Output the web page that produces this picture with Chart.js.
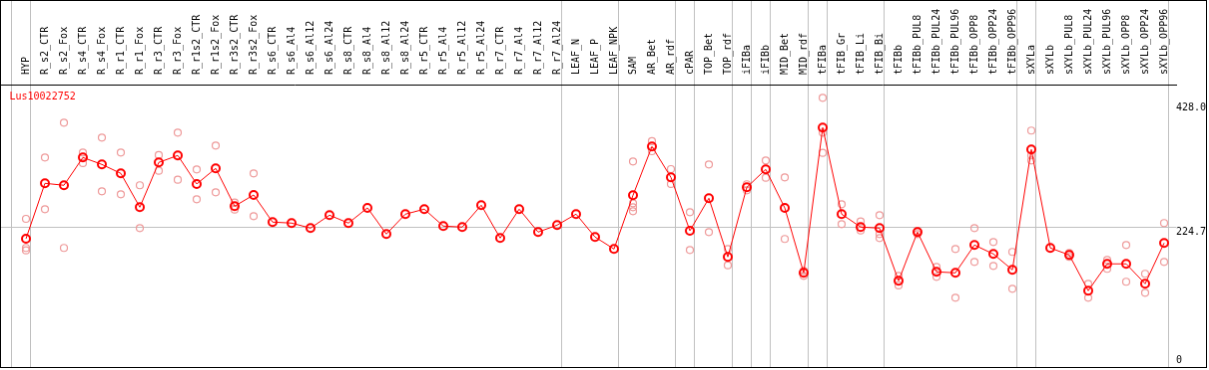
<!DOCTYPE html>
<html>
<head>
<meta charset="utf-8">
<script src="https://cdn.jsdelivr.net/npm/chart.js"></script>
<style>
    body { margin: 0; background: #fff; }
    #exprChart { display: block; border: 1px solid #000; }
</style>
</head>
<body>
<canvas id="exprChart" width="1207" height="368"></canvas>
<script>
const geneName = 'Lus10022752';

const categories = ['HYP', 'R_s2_CTR', 'R_s2_Fox', 'R_s4_CTR', 'R_s4_Fox', 'R_r1_CTR', 'R_r1_Fox',
    'R_r3_CTR', 'R_r3_Fox', 'R_r1s2_CTR', 'R_r1s2_Fox', 'R_r3s2_CTR', 'R_r3s2_Fox',
    'R_s6_CTR', 'R_s6_Al4', 'R_s6_Al12', 'R_s6_Al24', 'R_s8_CTR', 'R_s8_Al4', 'R_s8_Al12', 'R_s8_Al24',
    'R_r5_CTR', 'R_r5_Al4', 'R_r5_Al12', 'R_r5_Al24', 'R_r7_CTR', 'R_r7_Al4', 'R_r7_Al12', 'R_r7_Al24',
    'LEAF_N', 'LEAF_P', 'LEAF_NPK', 'SAM', 'AR_Bet', 'AR_rdf', 'cPAR', 'TOP_Bet', 'TOP_rdf',
    'iFIBa', 'iFIBb', 'MID_Bet', 'MID_rdf', 'tFIBa', 'tFIB_Gr', 'tFIB_Li', 'tFIB_Bi',
    'tFIBb', 'tFIBb_PUL8', 'tFIBb_PUL24', 'tFIBb_PUL96', 'tFIBb_OPP8', 'tFIBb_OPP24', 'tFIBb_OPP96',
    'sXYLa', 'sXYLb', 'sXYLb_PUL8', 'sXYLb_PUL24', 'sXYLb_PUL96', 'sXYLb_OPP8', 'sXYLb_OPP24', 'sXYLb_OPP96'];

// mean expression per sample
const means = [206.4, 296.8, 293.6, 339.0, 327.6, 313.0, 257.8, 330.9, 342.3, 295.7, 321.2, 259.5, 277.8,
    233.5, 231.9, 223.7, 244.8, 231.9, 256.7, 214.0, 246.5,
    254.6, 227.0, 225.4, 261.1, 207.5, 254.6, 217.2, 228.6,
    246.5, 209.1, 189.6, 277.3, 356.9, 306.5, 219.4, 272.4, 176.7,
    290.3, 319.5, 256.7, 150.7, 387.7, 246.5, 225.4, 223.7,
    137.7, 217.2, 152.3, 150.7, 196.1, 181.5, 155.5,
    352.0, 191.3, 179.9, 121.4, 165.3, 165.3, 132.8, 199.4];

// individual replicates (empty = single sample)
const replicates = [
    [238.8, 191.3, 187.4], [339.0, 254.6], [395.8, 191.3], [347.1, 329.8], [371.5, 283.8],
    [347.1, 278.9], [293.6, 223.7], [342.8, 317.3], [379.6, 302.6], [319.5, 270.8],
    [358.5, 282.2], [265.3, 253.9], [313.0, 243.2],
    [], [], [], [], [], [], [], [], [], [], [], [], [], [], [], [], [], [], [],
    [332.5, 264.3, 257.8, 251.3], [365.5, 349.2], [320.0, 295.7], [249.7, 188.0],
    [327.6, 217.2], [189.6, 163.0], [295.2, 285.4], [334.1, 305.9], [306.5, 205.9],
    [153.9, 145.8], [436.4, 379.6, 346.5], [262.7, 230.2], [234.5, 219.8], [244.8, 214.0, 207.5],
    [145.8, 130.1], [218.9, 214.0], [160.4, 144.2], [189.6, 110.1], [223.7, 168.5],
    [201.0, 162.0], [184.8, 124.7], [382.9, 342.3, 334.1], [],
    [183.1, 176.7], [132.8, 110.1], [171.8, 157.2], [196.1, 136.1], [149.1, 118.2], [231.9, 168.5]];

// last sample index of each tissue group (-1 = start)
const groupEnds = [-1, 0, 28, 31, 34, 35, 37, 38, 39, 41, 42, 45, 52, 53, 60];

const yTicks = [0, 224.7, 428.0];
const yTickLabels = ['0', '224.7', '428.0'];

const monoFont = { family: "'DejaVu Sans Mono', monospace", size: 10, lineHeight: 1 };
const xMin = -25 / 19;
const xMax = 1152 / 19;

const meanPoints = means.map((v, i) => ({ x: i, y: v }));
const repPoints = [];
replicates.forEach((vals, i) => vals.forEach(v => repPoints.push({ x: i, y: v })));

// gene id written in the top-left corner of the plot
const geneLabel = {
    id: 'geneLabel',
    afterDraw(chart) {
        const { ctx, chartArea } = chart;
        ctx.save();
        ctx.font = "10px 'DejaVu Sans Mono', monospace";
        ctx.fillStyle = '#ff0000';
        ctx.textBaseline = 'middle';
        ctx.fillText(chart.data.datasets[0].label, chartArea.left + 8.5, chartArea.top + 12);
        ctx.restore();
    }
};

function noSidePadding(s) {
    s.paddingLeft = 0;
    s.paddingRight = 0;
    s.paddingTop = 0;
    s.paddingBottom = 0;
}

new Chart(document.getElementById('exprChart'), {
    type: 'line',
    data: {
        datasets: [{
            label: geneName,
            data: meanPoints,
            borderColor: '#ff0000',
            borderWidth: 1,
            pointRadius: 4,
            pointBorderWidth: 2,
            pointBorderColor: '#ff0000',
            pointBackgroundColor: 'rgba(0,0,0,0)',
            tension: 0
        }, {
            label: 'replicates',
            data: repPoints,
            showLine: false,
            pointRadius: 3.5,
            pointBorderWidth: 1.2,
            pointBorderColor: '#ee9a9a',
            pointBackgroundColor: 'rgba(0,0,0,0)'
        }]
    },
    plugins: [geneLabel],
    options: {
        responsive: false,
        devicePixelRatio: 1,
        animation: false,
        layout: { padding: 0, autoPadding: false },
        plugins: {
            tooltip: { enabled: false },
            legend: { display: false }
        },
        scales: {
            x: {
                type: 'linear',
                position: 'top',
                weight: 0,
                min: xMin,
                max: xMax,
                afterBuildTicks: s => { s.ticks = groupEnds.map(g => ({ value: g + 0.24 })); },
                afterFit: s => { s.height = 0; noSidePadding(s); },
                ticks: { display: false },
                grid: { color: '#c0c0c0', lineWidth: 1, drawTicks: true, tickLength: 84 },
                border: { display: true, color: '#000', width: 1 }
            },
            xLabels: {
                type: 'linear',
                position: 'top',
                weight: 1,
                min: xMin,
                max: xMax,
                afterBuildTicks: s => { s.ticks = categories.map((c, i) => ({ value: i })); },
                afterFit: s => { s.height = 84; noSidePadding(s); },
                ticks: {
                    autoSkip: false,
                    minRotation: 90,
                    maxRotation: 90,
                    padding: 2,
                    labelOffset: 10,
                    color: '#000',
                    font: monoFont,
                    callback: v => categories[v]
                },
                grid: { display: false },
                border: { display: false }
            },
            y: {
                type: 'linear',
                position: 'right',
                min: -3.1,
                max: 458,
                afterBuildTicks: s => { s.ticks = yTicks.map(v => ({ value: v })); },
                afterFit: s => { s.width = 30; noSidePadding(s); },
                ticks: {
                    padding: 0,
                    color: '#000',
                    font: monoFont,
                    callback: v => {
                        const t = yTickLabels[yTicks.indexOf(v)];
                        return v === 0 ? [t, ''] : ['', t];
                    }
                },
                grid: {
                    drawTicks: false,
                    color: c => (c.tick && c.tick.value === yTicks[1]) ? '#c0c0c0' : 'rgba(0,0,0,0)'
                },
                border: { display: false }
            }
        }
    }
});
</script>
</body>
</html>
